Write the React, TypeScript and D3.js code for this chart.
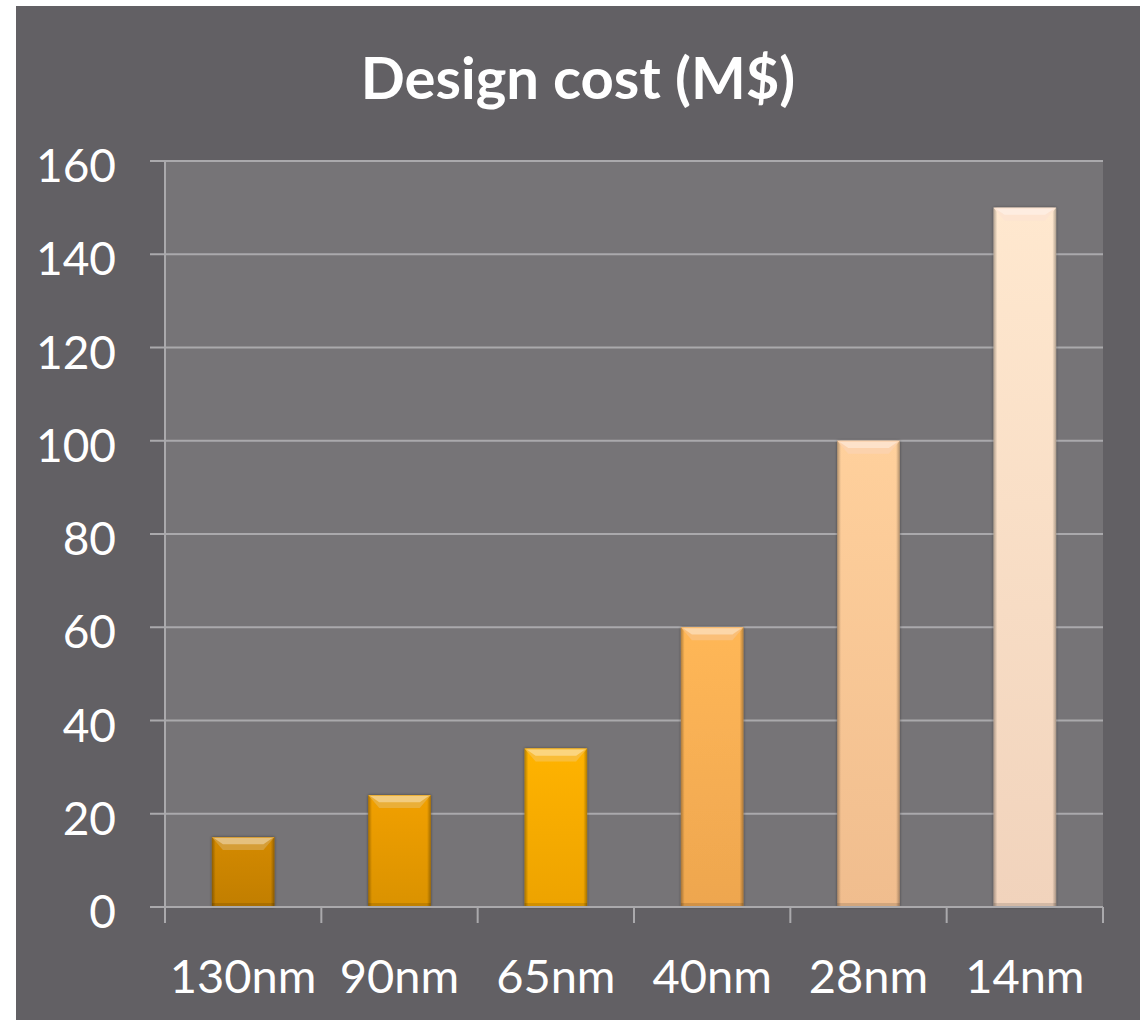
import React from "react";
import * as d3 from "d3";

const categories = ["130nm", "90nm", "65nm", "40nm", "28nm", "14nm"];
const designCost = [15, 24, 34, 60, 100, 150];
const barColors = ["#c98300", "#e49800", "#f7aa00", "#f8ad52", "#fbc594", "#fcdcc4"];
const yTicks = [0, 20, 40, 60, 80, 100, 120, 140, 160];
const title = "Design cost (M$)";

const W = 1140;
const H = 1020;
const plot = { left: 165, right: 1103, top: 161, bottom: 907 };

export default function App() {
  const x = d3
    .scaleBand<string>()
    .domain(categories)
    .range([plot.left, plot.right])
    .paddingInner(0.6)
    .paddingOuter(0.3);
  const y = d3.scaleLinear().domain([0, 160]).range([plot.bottom, plot.top]);
  const step = x.step();
  const bw = x.bandwidth();
  const font = "Lato, 'Open Sans', sans-serif";
  const axisColor = "#aaa9ac";

  return (
    <svg
      width={W}
      height={H}
      style={{ position: "absolute", left: 0, top: 0, display: "block" }}
    >
      <defs>
        {barColors.map((c, i) => {
          const base = d3.color(c)!;
          return (
            <linearGradient key={i} id={`bar${i}`} x1="0" y1="0" x2="0" y2="1">
              <stop offset="0%" stopColor={d3.color(c)!.brighter(0.15).formatHex()} />
              <stop offset="100%" stopColor={base.darker(0.12).formatHex()} />
            </linearGradient>
          );
        })}
        <linearGradient id="sideShade" x1="0" y1="0" x2="1" y2="0">
          <stop offset="0%" stopColor="#000" stopOpacity={0.3} />
          <stop offset="6%" stopColor="#000" stopOpacity={0} />
          <stop offset="94%" stopColor="#000" stopOpacity={0} />
          <stop offset="100%" stopColor="#000" stopOpacity={0.3} />
        </linearGradient>
        <filter id="shadow" x="-20%" y="-20%" width="140%" height="140%">
          <feDropShadow dx="0" dy="0" stdDeviation="1.5" floodColor="#000" floodOpacity="0.45" />
        </filter>
      </defs>

      <rect x={0} y={0} width={W} height={H} fill="#ffffff" />
      <rect x={16} y={6} width={W - 16} height={H - 6} fill="#626064" />
      <rect
        x={plot.left}
        y={plot.top}
        width={plot.right - plot.left}
        height={plot.bottom - plot.top}
        fill="#767477"
      />

      <text
        x={(16 + W) / 2}
        y={99}
        textAnchor="middle"
        fill="#ffffff"
        fontFamily={font}
        fontWeight={700}
        fontSize={58}
      >
        {title}
      </text>

      {/* gridlines and y axis labels */}
      {yTicks.map((t) => (
        <g key={t}>
          <line
            x1={plot.left - 15}
            x2={plot.right}
            y1={y(t)}
            y2={y(t)}
            stroke={axisColor}
            strokeWidth={2}
          />
          <text
            x={116}
            y={y(t) + 21}
            textAnchor="end"
            fill="#ffffff"
            fontFamily={font}
            fontSize={46}
          >
            {t}
          </text>
        </g>
      ))}
      <line
        x1={plot.left}
        x2={plot.left}
        y1={plot.top}
        y2={plot.bottom}
        stroke={axisColor}
        strokeWidth={2}
      />

      {/* category boundary ticks */}
      {d3.range(categories.length + 1).map((i) => {
        const xp = plot.left + i * step;
        return (
          <line
            key={i}
            x1={xp}
            x2={xp}
            y1={plot.bottom}
            y2={plot.bottom + 16}
            stroke={axisColor}
            strokeWidth={2}
          />
        );
      })}

      {/* bars */}
      {categories.map((c, i) => {
        const x0 = x(c)!;
        const y0 = y(designCost[i]);
        const h = plot.bottom - y0;
        const bev = 13;
        const inset = 11;
        const top = d3.color(barColors[i])!;
        const light = d3.interpolateRgb(top.formatHex(), "#ffffff")(0.55);
        const lighter = d3.interpolateRgb(top.formatHex(), "#ffffff")(0.22);
        return (
          <g key={c}>
            <rect
              x={x0}
              y={y0}
              width={bw}
              height={h}
              fill={`url(#bar${i})`}
              filter="url(#shadow)"
            />
            <rect x={x0} y={y0} width={bw} height={h} fill="url(#sideShade)" />
            {/* top bevel */}
            <path
              d={`M${x0},${y0} L${x0 + bw},${y0} L${x0 + bw - inset},${y0 + bev} L${x0 + inset},${y0 + bev} Z`}
              fill={lighter}
            />
            <path
              d={`M${x0 + 2},${y0 + 1} L${x0 + bw - 2},${y0 + 1} L${x0 + bw - inset},${y0 + bev * 0.55} L${x0 + inset},${y0 + bev * 0.55} Z`}
              fill={light}
              opacity={0.85}
            />
            {/* bottom edge */}
            <rect
              x={x0}
              y={plot.bottom - 4}
              width={bw}
              height={4}
              fill="#000"
              opacity={0.12}
            />
          </g>
        );
      })}

      <line
        x1={plot.left - 15}
        x2={plot.right}
        y1={plot.bottom}
        y2={plot.bottom}
        stroke={axisColor}
        strokeWidth={2}
      />

      {categories.map((c) => (
        <text
          key={c}
          x={x(c)! + bw / 2}
          y={993}
          textAnchor="middle"
          fill="#ffffff"
          fontFamily={font}
          fontSize={47}
        >
          {c}
        </text>
      ))}
    </svg>
  );
}
